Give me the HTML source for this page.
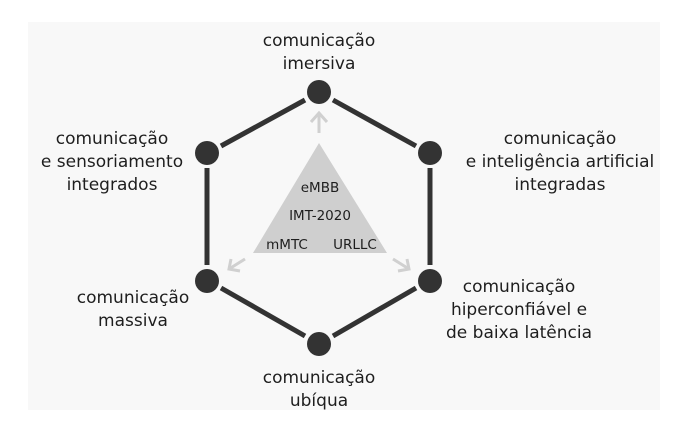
<!DOCTYPE html>
<html><head><style>
body{margin:0;background:#fff}
svg{display:block}
text{font-family:"DejaVu Sans","Liberation Sans",sans-serif;fill:#1e1e1e}
</style></head><body>
<svg width="688" height="429" viewBox="0 0 688 429">
<rect x="28" y="22" width="632" height="388" fill="#f8f8f8"/>
<g stroke="#333" stroke-width="5" fill="none">
<line x1="333" y1="100" x2="416" y2="146"/>
<line x1="430" y1="168" x2="430" y2="265"/>
<line x1="416" y1="288" x2="333" y2="336"/>
<line x1="305" y1="336" x2="221" y2="288"/>
<line x1="207" y1="265" x2="207" y2="168"/>
<line x1="221" y1="146" x2="305" y2="100"/>
</g>
<g fill="#333">
<circle cx="319" cy="92" r="12"/>
<circle cx="430" cy="153" r="12"/>
<circle cx="430" cy="281" r="12"/>
<circle cx="319" cy="344" r="12"/>
<circle cx="207" cy="281" r="12"/>
<circle cx="207" cy="153" r="12"/>
</g>
<polygon points="319,143 253,253 387,253" fill="#cfcfcf"/>
<g stroke="#d0d0d0" stroke-width="3" fill="none">
<line x1="319" y1="133" x2="319" y2="113"/>
<polyline points="311,122 319,113 327,122"/>
<line x1="245" y1="259" x2="229" y2="269"/>
<polyline points="231,259 229,269 240,271"/>
<line x1="393" y1="259" x2="409" y2="269"/>
<polyline points="407,259 409,269 398,271"/>
</g>
<g font-size="13.5" text-anchor="middle">
<text x="320" y="192">eMBB</text>
<text x="320" y="220">IMT-2020</text>
<text x="287" y="249">mMTC</text>
<text x="355" y="249">URLLC</text>
</g>
<g font-size="17" text-anchor="middle">
<text x="319" y="46">comunicação</text>
<text x="319" y="69">imersiva</text>
<text x="560" y="144">comunicação</text>
<text x="560" y="167">e inteligência artificial</text>
<text x="560" y="190">integradas</text>
<text x="112" y="144">comunicação</text>
<text x="112" y="167">e sensoriamento</text>
<text x="112" y="190">integrados</text>
<text x="133" y="303">comunicação</text>
<text x="133" y="326">massiva</text>
<text x="519" y="292">comunicação</text>
<text x="519" y="315">hiperconfiável e</text>
<text x="519" y="338">de baixa latência</text>
<text x="319" y="383">comunicação</text>
<text x="319" y="406">ubíqua</text>
</g>
</svg>
</body></html>
